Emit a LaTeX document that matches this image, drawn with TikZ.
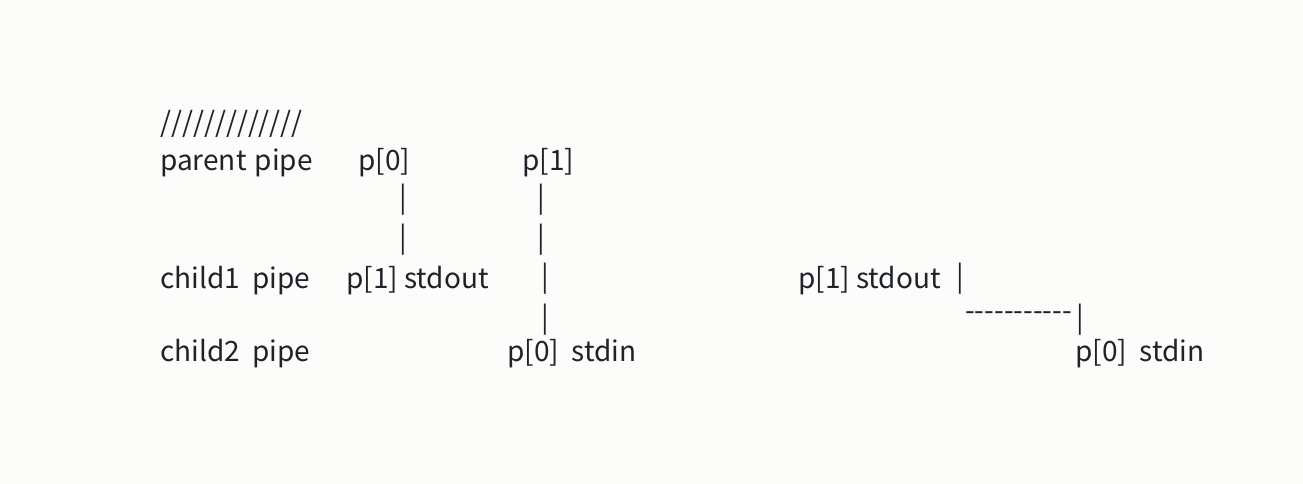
\documentclass[tikz,border=0pt]{standalone}
\usepackage{fontspec}
\setmainfont{Noto Sans CJK SC}[Ligatures=TeXOff]
\definecolor{ink}{HTML}{1F2329}
\definecolor{paper}{HTML}{FCFCFB}
\tikzset{
  txt/.style={anchor=base west,inner sep=0pt,text=ink,font=\fontsize{28}{32}\selectfont},
  bar/.style={anchor=center,inner sep=0pt,text=ink,font=\fontsize{28}{32}\selectfont}
}
\begin{document}
\begin{tikzpicture}[x=1pt,y=-1pt]
\fill[paper] (0,0) rectangle (1303,484);
\useasboundingbox (0,0) rectangle (1303,484);
% labels on the left
\node[txt] (slash) at (160,132) {/////////////};
\node[txt] (parent) at (160,170) {parent\hspace{2pt} pipe};
\node[txt] (child1) at (160,288) {child1\ \ pipe};
\node[txt] (child2) at (160,361) {child2\ \ pipe};
% parent pipe ends
\node[txt] (pr0) at (358,170) {p[0]};
\node[txt] (pr1) at (522,170) {p[1]};
\node[bar] (ba) at (403,200) {|};
\node[bar] (bb) at (403,240) {|};
\node[bar] (bc) at (541,200) {|};
\node[bar] (bd) at (541,240) {|};
\node[txt] (c1out) at (346,288) {p[1] stdout};
\node[bar] (be) at (545,279) {|};
\node[bar] (bf) at (545,320) {|};
\node[txt] (c2in) at (507,361) {p[0]\ \ stdin};
% right hand copy
\node[txt] (rout) at (798,288) {p[1] stdout};
\node[bar] (bg) at (960,279) {|};
\node[txt] (dash) at (965,320) {-----------};
\node[bar] (bh) at (1080,320) {|};
\node[txt] (rin) at (1075,361) {p[0]\ \ stdin};
\end{tikzpicture}
\end{document}
